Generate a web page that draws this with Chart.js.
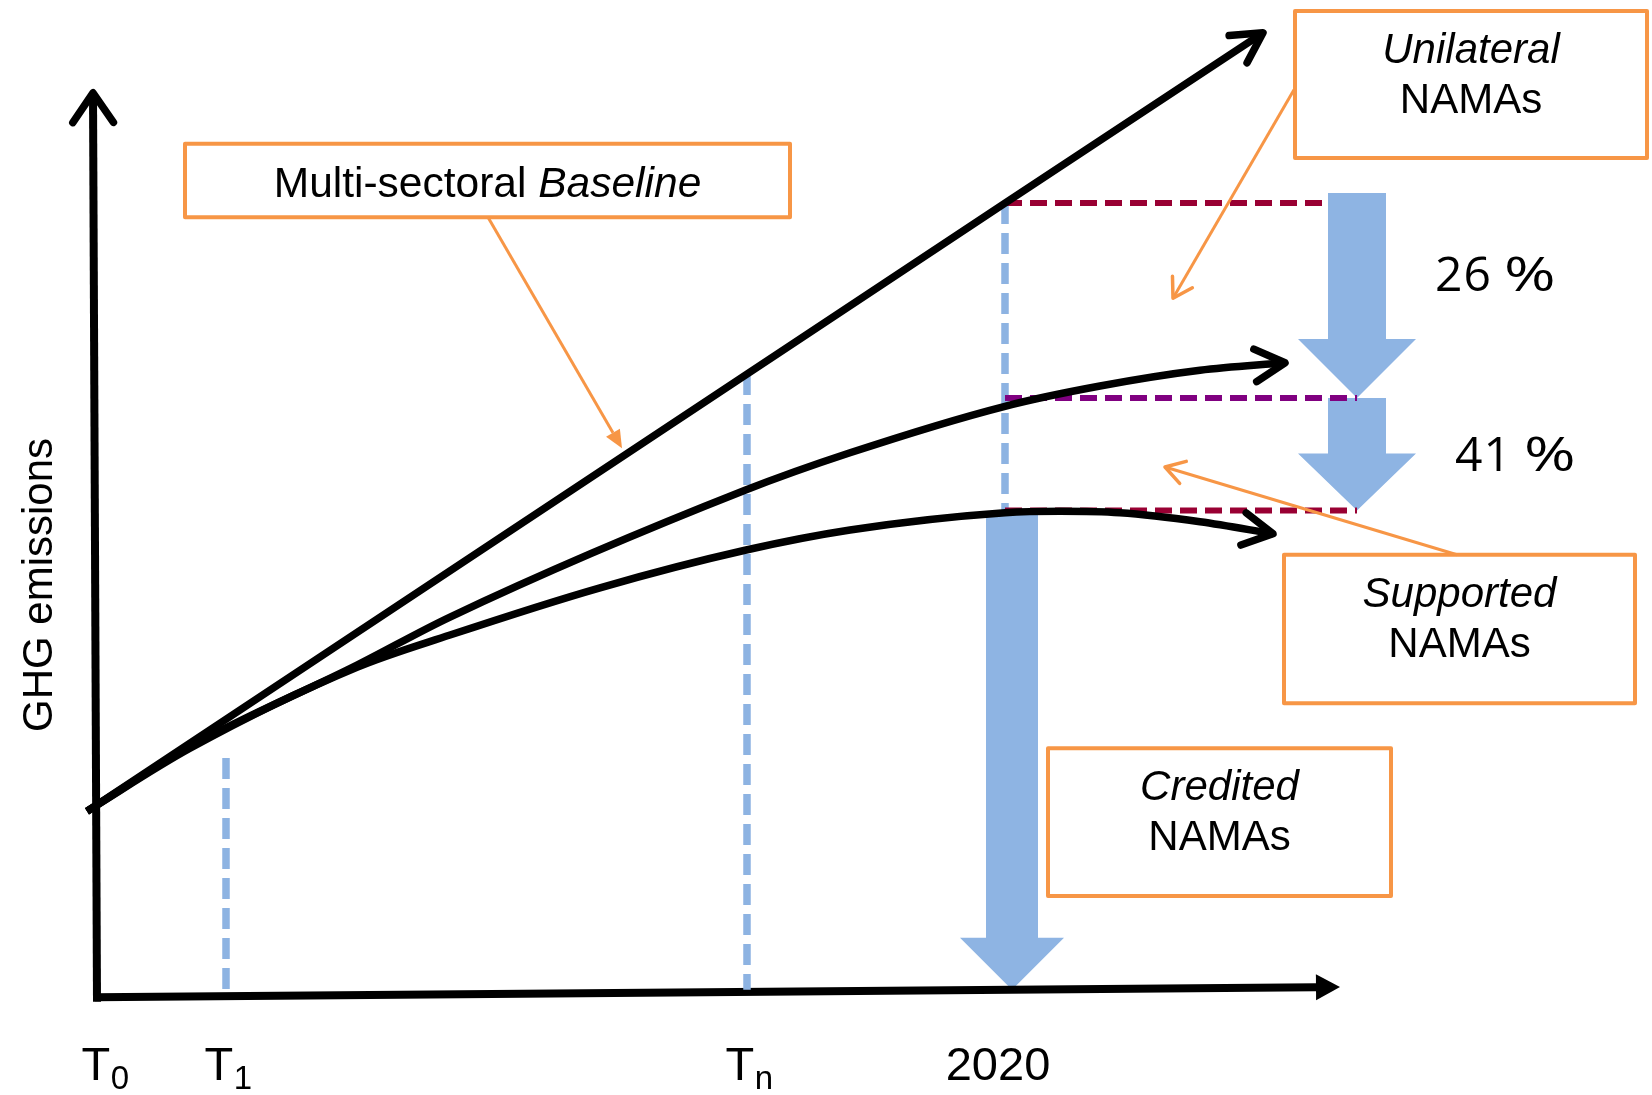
<!DOCTYPE html>
<html>
<head>
<meta charset="utf-8">
<title>GHG emissions and NAMAs</title>
<script src="https://cdn.jsdelivr.net/npm/chart.js@4.4.1/dist/chart.umd.min.js"></script>
<style>
  html, body { margin: 0; padding: 0; background: #ffffff; }
  #wrap { width: 1652px; height: 1095px; position: relative; }
</style>
</head>
<body>
<div id="wrap"><canvas id="chart"></canvas></div>
<script>
// ---- data -------------------------------------------------------------
// Horizontal unit: time steps from T0; vertical unit: emissions as % of the 2020 baseline level.
const timeLabels = ['T0', 'T1', 'Tn', '2020'];
const timePositions = [0, 13.1, 65.2, 91.0];

const baselineX = [-0.8, 91.0, 116.8];
const baselineY = [18.9, 100, 122.7];

const unilateralX = [-0.8, 9.5, 26.2, 35.5, 65.0, 75.5, 91.0, 100.5, 110.5, 119.0];
const unilateralY = [18.9, 27.5, 38.4, 44.8, 61.7, 66.7, 72.9, 75.6, 77.7, 78.7];

const supportedX = [-0.8, 9.5, 26.2, 35.5, 50.5, 65.0, 75.5, 91.0, 96.5, 102.5, 110.5, 117.8];
const supportedY = [18.9, 27.3, 38.1, 42.4, 48.7, 53.7, 56.4, 58.7, 58.9, 58.7, 57.5, 55.9];

// Reductions below the 2020 baseline (%)
const reductionLabels = ['26 %', '41 %'];
const reductions = [26, 41];

// Vertical guides at T1, Tn, 2020: top and bottom levels
const guideTops = [26.0, 77.2, 100];
const guideBottoms = [-5.5, -4.9, 59];

// Time axis and emissions axis end points
const timeAxisX = [0, 122.1];
const timeAxisY = [-5.9, -4.56];
const emissionAxisX = [0.2, -0.2];
const emissionAxisY = [-6.5, 114.7];

// ---- derived ------------------------------------------------------------
const zip = (xs, ys) => xs.map((v, i) => ({ x: v, y: ys[i] }));
const baseLevel = baselineY[1];
const levels = reductions.map(r => baseLevel - r);           // 74, 59
const year2020 = timePositions[3];
const supported2020 = supportedY[supportedX.indexOf(year2020)];

const BLACK = '#000000';
const GUIDE = '#8db3e2';
const BLOCK = '#8eb4e3';
const CRIMSON = '#990033';
const PURPLE = '#800080';
const ORANGE = '#f79646';
const SANS = '"Liberation Sans", Arial, sans-serif';

// Reduction arrows column and credited arrow column (horizontal units)
const reductionArrowX = 126.2;
const creditedArrowX = 91.7;

function lineSet(data, color, width, extra) {
  return Object.assign({
    data, borderColor: color, borderWidth: width, pointRadius: 0,
    fill: false, tension: 0, borderCapStyle: 'butt', clip: false
  }, extra || {});
}

const guideSets = [1, 2, 3].map((k, i) => lineSet(
  [{ x: timePositions[k], y: guideTops[i] }, { x: timePositions[k], y: guideBottoms[i] }],
  GUIDE, 7.5, { borderDash: [21, 9] }));

const datasets = [
  lineSet(zip(baselineX, baselineY), BLACK, 7.5, { head: 'open' }),
  lineSet(zip(unilateralX, unilateralY), BLACK, 7.5, { cubicInterpolationMode: 'monotone', head: 'open' }),
  lineSet(zip(supportedX, supportedY), BLACK, 7.5, { cubicInterpolationMode: 'monotone', head: 'open' }),
  lineSet([{ x: year2020, y: baseLevel }, { x: reductionArrowX - 2.9, y: baseLevel }], CRIMSON, 6, { borderDash: [17, 8] }),
  lineSet([{ x: year2020, y: levels[0] }, { x: reductionArrowX, y: levels[0] }], PURPLE, 6, { borderDash: [17, 8] }),
  lineSet([{ x: year2020, y: levels[1] }, { x: reductionArrowX, y: levels[1] }], CRIMSON, 6, { borderDash: [17, 8] }),
  ...guideSets,
  lineSet(zip(timeAxisX, timeAxisY), BLACK, 8, { head: 'filled' }),
  lineSet(zip(emissionAxisX, emissionAxisY), BLACK, 8, { head: 'axis' })
];

// ---- drawing helpers ----------------------------------------------------
function chevron(ctx, tx, ty, ang, len, spread, w, color) {
  ctx.save();
  ctx.strokeStyle = color; ctx.lineWidth = w; ctx.lineCap = 'round'; ctx.lineJoin = 'round';
  ctx.beginPath();
  ctx.moveTo(tx - len * Math.cos(ang - spread), ty - len * Math.sin(ang - spread));
  ctx.lineTo(tx, ty);
  ctx.lineTo(tx - len * Math.cos(ang + spread), ty - len * Math.sin(ang + spread));
  ctx.stroke();
  ctx.restore();
}

function triangleHead(ctx, bx, by, ang, len, half, color) {
  const c = Math.cos(ang), s = Math.sin(ang);
  ctx.save();
  ctx.fillStyle = color;
  ctx.beginPath();
  ctx.moveTo(bx + len * c, by + len * s);
  ctx.lineTo(bx - half * s, by + half * c);
  ctx.lineTo(bx + half * s, by - half * c);
  ctx.closePath();
  ctx.fill();
  ctx.restore();
}

function blockArrow(ctx, cx, top, tip, shaftHalf, headHalf, headLen) {
  ctx.beginPath();
  ctx.moveTo(cx - shaftHalf, top);
  ctx.lineTo(cx + shaftHalf, top);
  ctx.lineTo(cx + shaftHalf, tip - headLen);
  ctx.lineTo(cx + headHalf, tip - headLen);
  ctx.lineTo(cx, tip);
  ctx.lineTo(cx - headHalf, tip - headLen);
  ctx.lineTo(cx - shaftHalf, tip - headLen);
  ctx.closePath();
  ctx.fill();
}

// Callout boxes: corners in chart units, first line italic
const callouts = [
  { x0: 120.0, x1: 155.2, y0: 125.6, y1: 106.0, lines: [['Unilateral', true], ['NAMAs', false]] },
  { x0: 118.9, x1: 154.0, y0: 53.1, y1: 33.3, lines: [['Supported', true], ['NAMAs', false]] },
  { x0: 95.3, x1: 129.6, y0: 27.3, y1: 7.6, lines: [['Credited', true], ['NAMAs', false]] }
];
const baselineBox = { x0: 9.0, x1: 69.5, y0: 107.9, y1: 98.1 };

// Orange pointers: from a box to the element it names
const pointers = [
  { from: [39.3, 98.1], to: [52.7, 67.3], head: 'filled' },
  { from: [119.9, 115.1], to: [107.8, 87.3], head: 'open' },
  { from: [136.2, 53.1], to: [107.0, 64.8], head: 'open' }
];

const schematic = {
  id: 'schematic',
  beforeDatasetsDraw(chart) {
    const { ctx, scales: { x, y } } = chart;
    ctx.save();
    ctx.fillStyle = BLOCK;
    const rx = x.getPixelForValue(reductionArrowX);
    blockArrow(ctx, rx, y.getPixelForValue(baseLevel) - 10, y.getPixelForValue(levels[0]), 29, 59, 59);
    blockArrow(ctx, rx, y.getPixelForValue(levels[0]), y.getPixelForValue(levels[1]), 29, 59, 57);
    // credited reduction: from the supported pathway in 2020 down to the time axis
    const t = (creditedArrowX - timeAxisX[0]) / (timeAxisX[1] - timeAxisX[0]);
    const axisAt = timeAxisY[0] + t * (timeAxisY[1] - timeAxisY[0]);
    blockArrow(ctx, x.getPixelForValue(creditedArrowX), y.getPixelForValue(supported2020),
      y.getPixelForValue(axisAt), 26, 52, 52);
    ctx.restore();
  },
  afterDatasetsDraw(chart) {
    const { ctx, scales: { x, y } } = chart;
    const px = v => x.getPixelForValue(v);
    const py = v => y.getPixelForValue(v);

    // arrow heads at the ends of lines
    chart.data.datasets.forEach((ds, i) => {
      if (!ds.head) return;
      const pts = chart.getDatasetMeta(i).data;
      const a = pts[pts.length - 2], b = pts[pts.length - 1];
      const ang = Math.atan2(b.y - a.y, b.x - a.x);
      if (ds.head === 'open') chevron(ctx, b.x, b.y, ang, 34, 0.5, 7.5, BLACK);
      else if (ds.head === 'axis') chevron(ctx, b.x, b.y, ang, 36, 0.6, 7.5, BLACK);
      else triangleHead(ctx, b.x, b.y, ang, 24, 13, BLACK);
    });

    // callout boxes
    ctx.save();
    ctx.lineWidth = 4; ctx.strokeStyle = ORANGE; ctx.lineJoin = 'round';
    [baselineBox, ...callouts].forEach(b => {
      const l = px(b.x0), t = py(b.y0), w = px(b.x1) - l, h = py(b.y1) - t;
      ctx.fillStyle = '#ffffff';
      ctx.fillRect(l, t, w, h);
      ctx.strokeRect(l, t, w, h);
    });
    ctx.restore();

    // pointers
    pointers.forEach(p => {
      const x0 = px(p.from[0]), y0 = py(p.from[1]), x1 = px(p.to[0]), y1 = py(p.to[1]);
      const ang = Math.atan2(y1 - y0, x1 - x0);
      ctx.save();
      ctx.strokeStyle = ORANGE; ctx.lineWidth = 3; ctx.lineCap = 'butt';
      const back = p.head === 'filled' ? 18 : 0;
      ctx.beginPath();
      ctx.moveTo(x0, y0);
      ctx.lineTo(x1 - back * Math.cos(ang), y1 - back * Math.sin(ang));
      ctx.stroke();
      ctx.restore();
      if (p.head === 'filled') triangleHead(ctx, x1 - 18 * Math.cos(ang), y1 - 18 * Math.sin(ang), ang, 18, 8, ORANGE);
      else chevron(ctx, x1, y1, ang, 22, 0.55, 3.5, ORANGE);
    });

    // texts
    ctx.save();
    ctx.fillStyle = '#000000';
    ctx.textBaseline = 'alphabetic';

    // baseline box label: regular + italic word
    {
      const cx = (px(baselineBox.x0) + px(baselineBox.x1)) / 2;
      const base = py(baselineBox.y0) + 53;
      ctx.font = '42.5px ' + SANS;
      const a = 'Multi-sectoral ';
      const wa = ctx.measureText(a).width;
      ctx.font = 'italic 42.5px ' + SANS;
      const bTxt = 'Baseline';
      const wb = ctx.measureText(bTxt).width;
      const left = cx - (wa + wb) / 2;
      ctx.textAlign = 'left';
      ctx.font = '42.5px ' + SANS;
      ctx.fillText(a, left, base);
      ctx.font = 'italic 42.5px ' + SANS;
      ctx.fillText(bTxt, left + wa, base);
    }

    ctx.textAlign = 'center';
    callouts.forEach(b => {
      const cx = (px(b.x0) + px(b.x1)) / 2;
      const top = py(b.y0);
      b.lines.forEach((ln, k) => {
        ctx.font = (ln[1] ? 'italic ' : '') + '42px ' + SANS;
        ctx.fillText(ln[0], cx, top + 52 + k * 50);
      });
    });

    // reduction labels next to the block arrows (wide percent sign)
    ctx.textAlign = 'left';
    ctx.font = '48px "Open Sans", "Noto Sans", sans-serif';
    const rx = px(reductionArrowX);
    const drawPct = (txt, left, base) => {
      const [num, pct] = txt.split(' ');
      try { ctx.letterSpacing = '1px'; } catch (e) {}
      ctx.fillText(num, left, base);
      const wn = ctx.measureText(num).width;
      try { ctx.letterSpacing = '0px'; } catch (e) {}
      ctx.save();
      ctx.translate(left + wn + 12, base);
      ctx.scale(1.3, 1);
      ctx.fillText(pct, 0, 0);
      ctx.restore();
    };
    drawPct(reductionLabels[0], rx + 78, (py(baseLevel) + py(levels[0])) / 2 - 10);
    drawPct(reductionLabels[1], rx + 98, (py(levels[0]) + py(levels[1])) / 2 + 17);

    // time labels with subscripts
    const labelBase = 1080;
    timeLabels.forEach((lab, i) => {
      const cx = px(timePositions[i]);
      if (lab.startsWith('T')) {
        ctx.font = '47px ' + SANS;
        const wT = ctx.measureText('T').width;
        ctx.font = '33px ' + SANS;
        const sub = lab.slice(1);
        const wS = ctx.measureText(sub).width;
        const left = cx - (wT + wS) / 2 + (i === 0 ? 10 : 2);
        ctx.textAlign = 'left';
        ctx.font = '47px ' + SANS;
        ctx.fillText('T', left, labelBase);
        ctx.font = '33px ' + SANS;
        ctx.fillText(sub, left + wT + 0.5, labelBase + 9);
      } else {
        ctx.textAlign = 'center';
        ctx.font = '47px ' + SANS;
        ctx.fillText(lab, cx - 7, labelBase);
      }
    });

    // vertical axis title
    ctx.save();
    ctx.translate(52, 585);
    ctx.rotate(-Math.PI / 2);
    ctx.textAlign = 'center';
    ctx.font = '42px ' + SANS;
    ctx.fillText('GHG emissions', 0, 0);
    ctx.restore();

    ctx.restore();
  }
};

new Chart(document.getElementById('chart'), {
  type: 'line',
  data: { datasets },
  options: {
    responsive: true,
    maintainAspectRatio: false,
    devicePixelRatio: 1,
    animation: false,
    events: [],
    layout: { padding: 0 },
    plugins: { legend: { display: false }, tooltip: { enabled: false } },
    scales: {
      x: { type: 'linear', display: false, min: -9.5, max: 155.7 },
      y: { type: 'linear', display: false, min: -18.93, max: 127.07 }
    }
  },
  plugins: [schematic]
});
</script>
</body>
</html>
